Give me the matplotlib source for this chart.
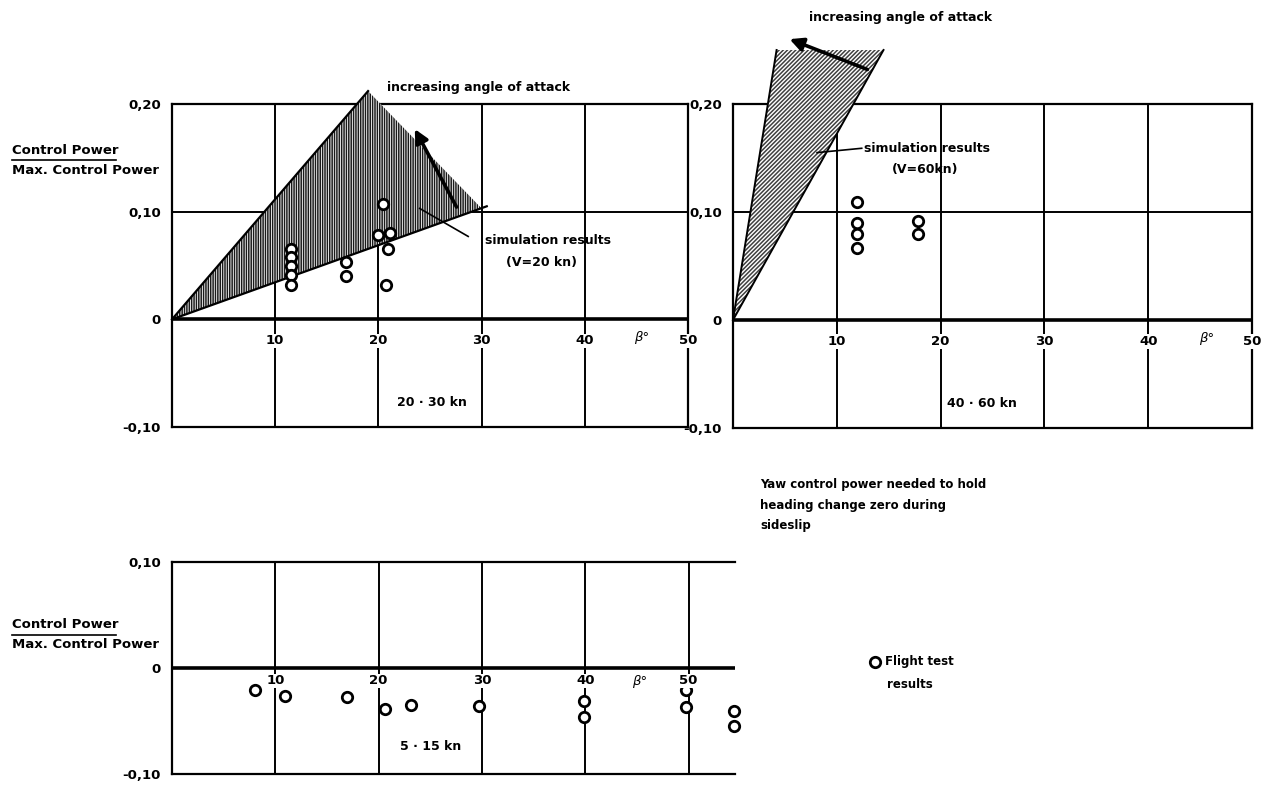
import numpy as np
import matplotlib.pyplot as plt
from matplotlib.patches import Polygon
from matplotlib.lines import Line2D

plt.rcParams['font.family'] = ['DejaVu Sans']
plt.rcParams['hatch.linewidth'] = 1.1

W, H = 1268, 786

# flight test points: sideslip angle (deg) and control power ratio
beta_2030 = [11.5, 11.5, 11.5, 11.5, 11.5, 16.9, 16.9, 20.4, 20.0, 21.1, 20.9, 20.7]
cp_2030 = [0.065, 0.058, 0.050, 0.041, 0.032, 0.053, 0.040, 0.107, 0.078, 0.080, 0.065, 0.032]

beta_4060 = [11.9, 11.9, 11.9, 11.9, 17.8, 17.8]
cp_4060 = [0.109, 0.090, 0.080, 0.067, 0.092, 0.080]

beta_0515 = [8.0, 10.9, 16.9, 20.6, 23.1, 29.7, 39.9, 39.9, 49.8, 49.8, 54.4, 54.4]
cp_0515 = [-0.021, -0.026, -0.027, -0.039, -0.035, -0.036, -0.031, -0.046,
           -0.021, -0.037, -0.041, -0.055]

# simulation envelopes (corner points of the shaded regions)
sim20_beta = [0, 19.0, 30.0]
sim20_cp = [0, 0.212, 0.103]
sim60_beta = [0, 4.2, 14.5]
sim60_cp = [0, 0.250, 0.250]

ytick_top = [-0.10, 0, 0.10, 0.20]
ylab_top = ['-0,10', '0', '0,10', '0,20']
ytick_bot = [-0.10, 0, 0.10]
ylab_bot = ['-0,10', '0', '0,10']
xlab_vals = [10, 20, 30, 40, 50]

FS = 9.5
BOLD = 'bold'

fig = plt.figure(figsize=(W / 100, H / 100), dpi=100)


def px_axes(x0, y0, x1, y1):
    return fig.add_axes([x0 / W, 1 - y1 / H, (x1 - x0) / W, (y1 - y0) / H])


def setup(ax, xmax, ylo, yhi, yticks, ylabels, gridx, gridy, right=True):
    ax.set_xlim(0, xmax)
    ax.set_ylim(ylo, yhi)
    ax.set_xticks([])
    ax.set_yticks(yticks)
    ax.set_yticklabels(ylabels, fontsize=FS, fontweight=BOLD)
    ax.tick_params(axis='y', length=0, pad=8)
    for s in ax.spines.values():
        s.set_linewidth(1.6)
    ax.spines['right'].set_visible(right)
    ax.vlines(gridx, ylo, yhi, color='k', lw=1.4, zorder=1)
    for g in gridy:
        ax.axhline(g, color='k', lw=1.4, zorder=1)
    ax.axhline(0, color='k', lw=2.6, zorder=2)


def xlabels(ax, yoff, sym_x, sym_y):
    for v in xlab_vals:
        ax.text(v, yoff, str(v), ha='center', va='center', fontsize=FS,
                fontweight=BOLD, zorder=6,
                bbox=dict(fc='white', ec='none', pad=0.5))
    ax.text(sym_x, sym_y, 'β°', ha='center', va='center', fontsize=FS,
            style='italic', zorder=6)


def ratio_label(px, py):
    fig.text(px / W, 1 - py / H, 'Control Power', fontsize=FS, fontweight=BOLD,
             ha='left', va='center')
    fig.add_artist(Line2D([px / W, (px + 104) / W], [1 - (py + 10) / H] * 2,
                          color='k', lw=1.2))
    fig.text(px / W, 1 - (py + 20) / H, 'Max. Control Power', fontsize=FS,
             fontweight=BOLD, ha='left', va='center')


# ---- 20 - 30 kn ----
ax1 = px_axes(172, 104, 688, 427)
setup(ax1, 50, -0.10, 0.20, ytick_top, ylab_top, [10, 20, 30, 40], [0.10])
ax1.add_patch(Polygon(list(zip(sim20_beta, sim20_cp)), closed=True, fc='white',
                      ec='0.1', lw=0, hatch='|||||||', zorder=3, clip_on=False))
ax1.plot([0, sim20_beta[1]], [0, sim20_cp[1]], color='k', lw=1.6, zorder=4, clip_on=False)
ax1.plot([0, 30.5], [0, 0.105], color='k', lw=1.6, zorder=4)
ax1.annotate('', xy=(23.4, 0.179), xytext=(27.7, 0.102),
             arrowprops=dict(arrowstyle='-|>', lw=2.6, color='k', mutation_scale=20),
             zorder=5)
ax1.plot([24.0, 28.7], [0.103, 0.077], color='k', lw=1.2, zorder=4)
ax1.plot(beta_2030, cp_2030, 'o', ms=7.5, mfc='white', mec='k', mew=2, zorder=5)
ax1.text(30.3, 0.073, 'simulation results', ha='left', va='center', fontsize=9,
         fontweight=BOLD)
ax1.text(35.8, 0.053, '(V=20 kn)', ha='center', va='center', fontsize=9,
         fontweight=BOLD)
ax1.text(29.7, 0.215, 'increasing angle of attack', ha='center', va='center',
         fontsize=9, fontweight=BOLD)
ax1.text(25.2, -0.077, '20 · 30 kn', ha='center', va='center', fontsize=9,
         fontweight=BOLD)
xlabels(ax1, -0.02, 45.5, -0.017)

# ---- 40 - 60 kn ----
ax2 = px_axes(733, 104, 1252, 428)
setup(ax2, 50, -0.10, 0.20, ytick_top, ylab_top, [10, 20, 30, 40], [0.10])
ax2.add_patch(Polygon(list(zip(sim60_beta, sim60_cp)), closed=True, fc='white',
                      ec='0.25', lw=0, hatch='////////', zorder=3, clip_on=False))
ax2.plot([0, sim60_beta[1]], [0, sim60_cp[1]], color='k', lw=1.4, zorder=4, clip_on=False)
ax2.plot([0, sim60_beta[2]], [0, sim60_cp[2]], color='k', lw=1.4, zorder=4, clip_on=False)
ax2.annotate('', xy=(5.2, 0.261), xytext=(13.2, 0.231),
             arrowprops=dict(arrowstyle='-|>', lw=2.6, color='k', mutation_scale=20),
             zorder=5, annotation_clip=False)
ax2.plot([8.1, 12.4], [0.155, 0.159], color='k', lw=1.2, zorder=4)
ax2.plot(beta_4060, cp_4060, 'o', ms=7.5, mfc='white', mec='k', mew=2, zorder=5)
ax2.text(12.6, 0.159, 'simulation results', ha='left', va='center', fontsize=9,
         fontweight=BOLD)
ax2.text(18.5, 0.139, '(V=60kn)', ha='center', va='center', fontsize=9,
         fontweight=BOLD)
ax2.text(16.1, 0.28, 'increasing angle of attack', ha='center', va='center',
         fontsize=9, fontweight=BOLD)
ax2.text(24.0, -0.077, '40 · 60 kn', ha='center', va='center', fontsize=9,
         fontweight=BOLD)
xlabels(ax2, -0.02, 45.6, -0.017)

# ---- 5 - 15 kn ----
ax3 = px_axes(172, 562, 735, 774)
setup(ax3, 54.5, -0.10, 0.10, ytick_bot, ylab_bot, [10, 20, 30, 40, 50], [],
      right=False)
ax3.plot(beta_0515, cp_0515, 'o', ms=7.5, mfc='white', mec='k', mew=2, zorder=5,
         clip_on=False)
ax3.text(25.0, -0.0745, '5 · 15 kn', ha='center', va='center', fontsize=9,
         fontweight=BOLD)
xlabels(ax3, -0.012, 45.3, -0.013)

# ---- side texts ----
ratio_label(12, 150)
ratio_label(12, 625)
fig.text(760 / W, 1 - 505 / H,
         'Yaw control power needed to hold\nheading change zero during\nsideslip',
         ha='left', va='center', fontsize=8.5, fontweight=BOLD, linespacing=1.75)
fig.add_artist(Line2D([875 / W], [1 - 662 / H], marker='o', ms=7.5, mfc='white',
                      mec='k', mew=2, ls='none'))
fig.text(885 / W, 1 - 662 / H, 'Flight test', ha='left', va='center', fontsize=8.5,
         fontweight=BOLD)
fig.text(887 / W, 1 - 685 / H, 'results', ha='left', va='center', fontsize=8.5,
         fontweight=BOLD)

fig.savefig('out.png', dpi=100)
